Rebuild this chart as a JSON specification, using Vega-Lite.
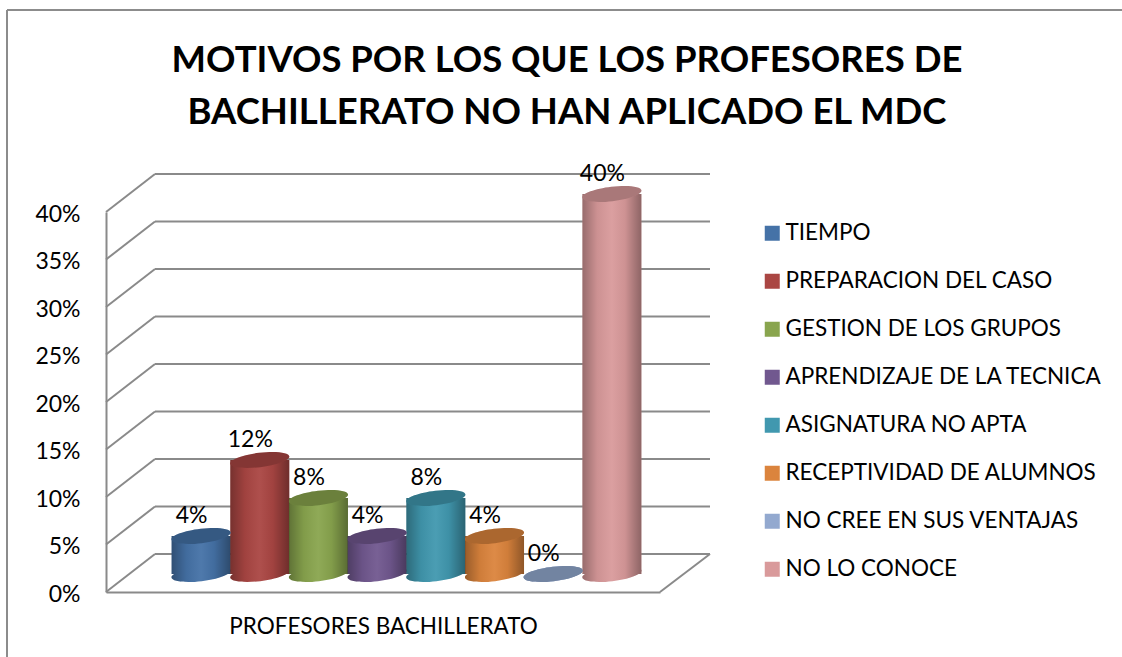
{
"$schema":"https://vega.github.io/schema/vega-lite/v6.json",
"width":554,"height":380,
"autosize":{"type":"none"},
"padding":{"left":106,"top":212,"right":462,"bottom":65},
"background":"white",
"config":{"font":"Lato","view":{"stroke":null}},
"title":{"text":["MOTIVOS POR LOS QUE LOS PROFESORES DE","BACHILLERATO NO HAN APLICADO EL MDC"],"anchor":"middle","dx":184,"fontSize":36.5,"fontWeight":"bold","color":"black","lineHeight":52,"offset":-122,"font":"Lato"},
"datasets":{
"motivos":[
{"motivo":"TIEMPO","valor":0.04},
{"motivo":"PREPARACION DEL CASO","valor":0.12},
{"motivo":"GESTION DE LOS GRUPOS","valor":0.08},
{"motivo":"APRENDIZAJE DE LA TECNICA","valor":0.04},
{"motivo":"ASIGNATURA NO APTA","valor":0.08},
{"motivo":"RECEPTIVIDAD DE ALUMNOS","valor":0.04},
{"motivo":"NO CREE EN SUS VENTAJAS","valor":0.0},
{"motivo":"NO LO CONOCE","valor":0.40}],
"rejilla":[{"v":0},{"v":0.05},{"v":0.10},{"v":0.15},{"v":0.20},{"v":0.25},{"v":0.30},{"v":0.35},{"v":0.40}]
},
"layer":[
{"data":{"values":[{"k":"marco"}]},"mark":{"type":"rule","color":"#8c8c8c","strokeWidth":2},"encoding":{"x":{"value":-99},"x2":{"value":1016},"y":{"value":-202}}},
{"data":{"values":[{"k":"marco"}]},"mark":{"type":"rule","color":"#8c8c8c","strokeWidth":2},"encoding":{"x":{"value":-99},"y":{"value":-202},"y2":{"value":445}}},
{"data":{"name":"rejilla"},"mark":{"type":"rule","color":"#8a8a8a","strokeWidth":2,"xOffset":49,"x2Offset":50,"yOffset":-38,"y2Offset":-38},"encoding":{"x":{"value":0},"x2":{"value":554},"y":{"field":"v","type":"quantitative","scale":{"domain":[0,0.4],"nice":false},"axis":{"format":".0%","values":[0,0.05,0.1,0.15,0.2,0.25,0.3,0.35,0.4],"grid":false,"ticks":false,"labelPadding":26,"labelFontSize":23,"labelOffset":2,"labelColor":"black","domainColor":"#8a8a8a","domainWidth":2,"title":null}}}},
{"data":{"name":"rejilla"},"mark":{"type":"rule","color":"#8a8a8a","strokeWidth":2,"y2Offset":-38},"encoding":{"x":{"value":0},"x2":{"value":49},"y":{"field":"v","type":"quantitative"},"y2":{"field":"v"}}},
{"data":{"values":[{"v":0}]},"mark":{"type":"rule","color":"#8a8a8a","strokeWidth":2,"y2Offset":-38},"encoding":{"x":{"value":554},"x2":{"value":604},"y":{"field":"v","type":"quantitative"},"y2":{"field":"v"}}},
{"data":{"name":"motivos"},"encoding":{"x":{"field":"motivo","type":"nominal","sort":null,"scale":{"paddingInner":0,"paddingOuter":0.72},"axis":{"labels":false,"ticks":false,"domainColor":"#8a8a8a","domainWidth":2,"title":"PROFESORES BACHILLERATO","titleFontSize":22.5,"titleFontWeight":"normal","titleColor":"black","titlePadding":23}},
"color":{"field":"motivo","type":"nominal","sort":null,"scale":{"domain":["TIEMPO","PREPARACION DEL CASO","GESTION DE LOS GRUPOS","APRENDIZAJE DE LA TECNICA","ASIGNATURA NO APTA","RECEPTIVIDAD DE ALUMNOS","NO CREE EN SUS VENTAJAS","NO LO CONOCE"],"range":["#4572A7","#AA4643","#89A54E","#71588F","#4198AF","#DB843D","#93A9CF","#D99A9B"]},"legend":{"orient":"none","legendX":655,"legendY":10,"title":null,"symbolType":"square","symbolSize":225,"symbolStrokeWidth":0,"symbolOpacity":1,"labelFontSize":22.5,"labelColor":"black","labelOffset":2,"rowPadding":25,"labelLimit":400}}},
"layer":[
{"mark":{"type":"point","filled":true,"opacity":1,"size":3500,"strokeWidth":0,"shape":"M-1,0.12A1,0.24,-7,1,1,1,-0.12A1,0.24,-7,1,1,-1,0.12Z","xOffset":23.5,"yOffset":-18},"encoding":{"y":{"datum":0,"type":"quantitative"}}},
{"mark":{"type":"point","filled":true,"opacity":1,"size":3500,"strokeWidth":0,"shape":"M-1,0.12A1,0.24,-7,1,1,1,-0.12A1,0.24,-7,1,1,-1,0.12Z","xOffset":23.5,"yOffset":-18},"encoding":{"color":{"value":{"gradient":"linear","x1":0,"x2":1,"y1":0,"y2":0,"stops":[{"offset":0,"color":"rgba(0,0,0,0.3)"},{"offset":0.25,"color":"rgba(0,0,0,0.06)"},{"offset":0.5,"color":"rgba(255,255,255,0.05)"},{"offset":0.72,"color":"rgba(0,0,0,0.05)"},{"offset":1,"color":"rgba(0,0,0,0.35)"}]}},"y":{"datum":0,"type":"quantitative"}}},
{"mark":{"type":"bar","size":59,"xOffset":23.5,"x2Offset":23.5,"yOffset":-18,"y2Offset":-18},"encoding":{"y":{"field":"valor","type":"quantitative"},"y2":{"datum":0}}},
{"mark":{"type":"bar","size":59,"xOffset":23.5,"x2Offset":23.5,"yOffset":-18,"y2Offset":-18},"encoding":{"color":{"value":{"gradient":"linear","x1":0,"x2":1,"y1":0,"y2":0,"stops":[{"offset":0,"color":"rgba(0,0,0,0.3)"},{"offset":0.25,"color":"rgba(0,0,0,0.06)"},{"offset":0.5,"color":"rgba(255,255,255,0.05)"},{"offset":0.72,"color":"rgba(0,0,0,0.05)"},{"offset":1,"color":"rgba(0,0,0,0.35)"}]}},"y":{"field":"valor","type":"quantitative"},"y2":{"datum":0}}},
{"mark":{"type":"point","filled":true,"opacity":1,"size":3500,"strokeWidth":0,"shape":"M-1,0.12A1,0.24,-7,1,1,1,-0.12A1,0.24,-7,1,1,-1,0.12Z","xOffset":23.5,"yOffset":-18},"encoding":{"y":{"field":"valor","type":"quantitative"}}},
{"mark":{"type":"point","filled":true,"opacity":0.22,"size":3500,"strokeWidth":0,"shape":"M-1,0.12A1,0.24,-7,1,1,1,-0.12A1,0.24,-7,1,1,-1,0.12Z","xOffset":23.5,"yOffset":-18},"encoding":{"color":{"value":"black"},"y":{"field":"valor","type":"quantitative"}}},
{"mark":{"type":"text","fontSize":23,"xOffset":14,"yOffset":-38,"baseline":"middle"},"encoding":{"color":{"value":"black"},"y":{"field":"valor","type":"quantitative"},"text":{"field":"valor","type":"quantitative","format":".0%"}}}
]}
]
}
